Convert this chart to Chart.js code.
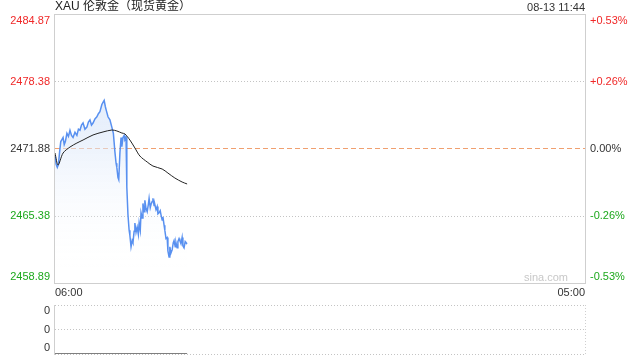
<!DOCTYPE html>
<html>
<head>
<meta charset="utf-8">
<script src="https://cdn.jsdelivr.net/npm/chart.js@4/dist/chart.umd.min.js"></script>
<style>
  body { margin: 0; background: #fff; }
  #wrap { position: relative; width: 640px; height: 360px; }
  #priceBox { position: absolute; left: 0; top: 0; width: 640px; height: 300px; }
  #volBox { position: absolute; left: 0; top: 300px; width: 640px; height: 60px; }
</style>
</head>
<body>
<div id="wrap">
  <div id="priceBox"><canvas id="price"></canvas></div>
  <div id="volBox"><canvas id="vol"></canvas></div>
</div>
<script>
// minutes after 06:00
const priceTimes = [0,3,6,9,12,15,18,21,24,27,31,35,39,43,47,52,57,61,65,69,73,78,83,87,91,95,99,104,109,113,117,122,125,128,131,133,138,143,148,152,156,159,161,164,166,169,172,174,177,180,182,185,187,190,193,195,198,201,203,206,208,211,214,217,219,222,224,227,229,232,234,237,240,243,245,248,250,253,255,258,260,263,266,268,271,274,276,279,281,284,286,289,292,294,297,299,302,305,308,310,313,315,318,320,323,325,328,331,333,336,339,341,344];
const prices = [2471.3,2470.4,2470.1,2470.4,2471.6,2472.6,2472.8,2473.0,2472.3,2472.6,2473.4,2473.1,2473.7,2473.2,2473.0,2473.5,2473.2,2473.8,2473.7,2474.2,2474.4,2473.8,2474.0,2474.5,2474.7,2474.2,2474.4,2474.8,2475.0,2475.3,2475.5,2476.2,2476.4,2476.6,2476.0,2475.7,2475.0,2474.7,2474.0,2473.4,2471.6,2470.5,2470.1,2469.1,2468.9,2471.5,2473.0,2472.1,2473.0,2473.2,2472.8,2473.0,2468.2,2465.5,2464.0,2463.5,2462.4,2463.0,2462.8,2463.9,2464.7,2463.8,2464.3,2463.6,2464.7,2464.0,2465.7,2465.2,2466.6,2465.8,2466.9,2466.1,2465.8,2466.5,2467.1,2466.2,2466.5,2466.8,2467.1,2466.4,2466.5,2466.0,2466.3,2465.6,2465.7,2465.9,2465.5,2465.0,2465.3,2464.5,2464.0,2463.2,2463.3,2462.0,2461.4,2462.4,2461.8,2462.1,2462.8,2463.0,2462.4,2462.8,2462.3,2462.9,2463.2,2463.0,2462.7,2463.3,2462.5,2462.3,2462.9,2462.8,2462.7];
const maTimes = [0,8,21,39,57,73,99,125,148,161,174,182,195,208,221,240,255,279,294,312,331,344];
const maValues = [2471.49,2470.33,2471.49,2472.07,2472.46,2472.75,2473.24,2473.53,2473.72,2473.63,2473.43,2473.34,2472.75,2471.98,2471.2,2470.62,2470.23,2469.94,2469.55,2469.07,2468.68,2468.49];
const volTimes = [0, 344];
const volumes = [0, 0];

const prevClose = 2471.88;
const yTicks = [2458.89, 2465.38, 2471.88, 2478.38, 2484.87];
const yLabels = ['2458.89', '2465.38', '2471.88', '2478.38', '2484.87'];
const pctLabels = ['-0.53%', '-0.26%', '0.00%', '+0.26%', '+0.53%'];
const xLabels = ['06:00', '05:00'];
const volLabels = ['0', '0', '0'];
const titleText = 'XAU 伦敦金（现货黄金）';
const timeText = '08-13 11:44';

const RED = '#f02828';
const GREEN = '#1ca81c';
const FONT = 'Arial, "Liberation Sans", "Noto Sans CJK SC", sans-serif';

function tickColor(i, mid) {
  if (i < mid) return GREEN;
  if (i > mid) return RED;
  return '#333';
}

const priceText = {
  id: 'priceText',
  beforeDatasetsDraw(chart) {
    const { ctx, chartArea: a } = chart;
    ctx.save();
    ctx.strokeStyle = '#cfcfcf';
    ctx.lineWidth = 1;
    ctx.strokeRect(a.left - 0.5, a.top - 0.5, a.right - a.left + 1, a.bottom - a.top + 1);
    ctx.restore();
  },
  afterDraw(chart) {
    const { ctx, chartArea: a, scales: { y } } = chart;
    ctx.save();
    ctx.textBaseline = 'middle';
    ctx.font = '11px ' + FONT;
    yTicks.forEach((v, i) => {
      let py = y.getPixelForValue(v);
      if (i === yTicks.length - 1) py += 6;
      if (i === 0) py -= 6;
      ctx.fillStyle = tickColor(i, 2);
      ctx.textAlign = 'right';
      ctx.fillText(yLabels[i], a.left - 5, py);
      ctx.textAlign = 'left';
      ctx.fillText(pctLabels[i], a.right + 5, py);
    });
    ctx.fillStyle = '#333';
    ctx.textAlign = 'left';
    ctx.fillText(xLabels[0], a.left, a.bottom + 10);
    ctx.textAlign = 'right';
    ctx.fillText(xLabels[1], a.right, a.bottom + 10);
    ctx.fillText(timeText, a.right, 8);
    ctx.fillStyle = '#c8c8c8';
    ctx.fillText('sina.com', a.right - 17, a.bottom - 5);
    ctx.font = '12px ' + FONT;
    ctx.fillStyle = '#222';
    ctx.textAlign = 'left';
    ctx.fillText(titleText, a.left, 7);
    ctx.restore();
  }
};

new Chart(document.getElementById('price'), {
  type: 'line',
  data: {
    datasets: [{
      data: priceTimes.map((t, i) => ({ x: t, y: prices[i] })),
      order: 1,
      borderColor: '#5890f0',
      borderWidth: 1.5,
      pointRadius: 0,
      tension: 0,
      fill: 'start',
      backgroundColor: (c) => {
        const a = c.chart.chartArea;
        if (!a) return 'rgba(220,232,250,0.6)';
        const g = c.chart.ctx.createLinearGradient(0, a.top, 0, a.bottom);
        g.addColorStop(0, 'rgba(205,222,250,0.8)');
        g.addColorStop(0.45, 'rgba(220,232,250,0.6)');
        g.addColorStop(0.95, 'rgba(255,255,255,0)');
        return g;
      }
    }, {
      data: maTimes.map((t, i) => ({ x: t, y: maValues[i] })),
      order: 0,
      borderColor: '#222',
      borderWidth: 1,
      pointRadius: 0,
      tension: 0.3,
      fill: false
    }]
  },
  options: {
    responsive: true,
    maintainAspectRatio: false,
    animation: false,
    layout: { padding: { left: 55, right: 55, top: 15, bottom: 17 } },
    plugins: { legend: { display: false }, tooltip: { enabled: false } },
    scales: {
      x: { type: 'linear', min: 0, max: 1380, display: false },
      y: {
        min: yTicks[0],
        max: yTicks[yTicks.length - 1],
        afterBuildTicks: (s) => { s.ticks = yTicks.map(v => ({ value: v })); },
        ticks: { display: false },
        border: {
          display: false,
          dash: (c) => c.index === 2 ? [5, 3] : [1, 2]
        },
        grid: {
          drawTicks: false,
          lineWidth: 1,
          color: (c) => {
            if (c.index === 2) return '#f0a070';
            if (c.index === 0 || c.index === 4) return 'rgba(0,0,0,0)';
            return '#c4c4c4';
          }
        }
      }
    }
  },
  plugins: [priceText]
});

const volText = {
  id: 'volText',
  afterDraw(chart) {
    const { ctx, chartArea: a, scales: { y } } = chart;
    ctx.save();
    ctx.strokeStyle = '#cfcfcf';
    ctx.lineWidth = 1;
    ctx.beginPath();
    ctx.moveTo(a.left - 0.5, a.top);
    ctx.lineTo(a.left - 0.5, a.bottom + 1);
    ctx.stroke();
    ctx.setLineDash([1, 2]);
    ctx.beginPath();
    ctx.moveTo(a.right + 0.5, a.top);
    ctx.lineTo(a.right + 0.5, a.bottom);
    ctx.stroke();
    ctx.setLineDash([]);
    ctx.font = '11px ' + FONT;
    ctx.fillStyle = '#333';
    ctx.textAlign = 'right';
    ctx.textBaseline = 'middle';
    [2, 1, 0].forEach((v, i) => {
      let py = y.getPixelForValue(v);
      if (v === 2) py += 6;
      if (v === 0) py -= 6;
      ctx.fillText(volLabels[i], a.left - 5, py);
    });
    ctx.restore();
  }
};

new Chart(document.getElementById('vol'), {
  type: 'line',
  data: {
    datasets: [{
      data: volTimes.map((t, i) => ({ x: t, y: volumes[i] })),
      borderColor: '#555',
      borderWidth: 1.5,
      pointRadius: 0,
      fill: false
    }]
  },
  options: {
    responsive: true,
    maintainAspectRatio: false,
    animation: false,
    layout: { padding: { left: 55, right: 55, top: 5, bottom: 6 } },
    plugins: { legend: { display: false }, tooltip: { enabled: false } },
    scales: {
      x: { type: 'linear', min: 0, max: 1380, display: false },
      y: {
        min: 0,
        max: 2,
        afterBuildTicks: (s) => { s.ticks = [0, 1, 2].map(v => ({ value: v })); },
        ticks: { display: false },
        border: { display: false, dash: [1, 2] },
        grid: { drawTicks: false, color: '#c4c4c4' }
      }
    }
  },
  plugins: [volText]
});
</script>
</body>
</html>
